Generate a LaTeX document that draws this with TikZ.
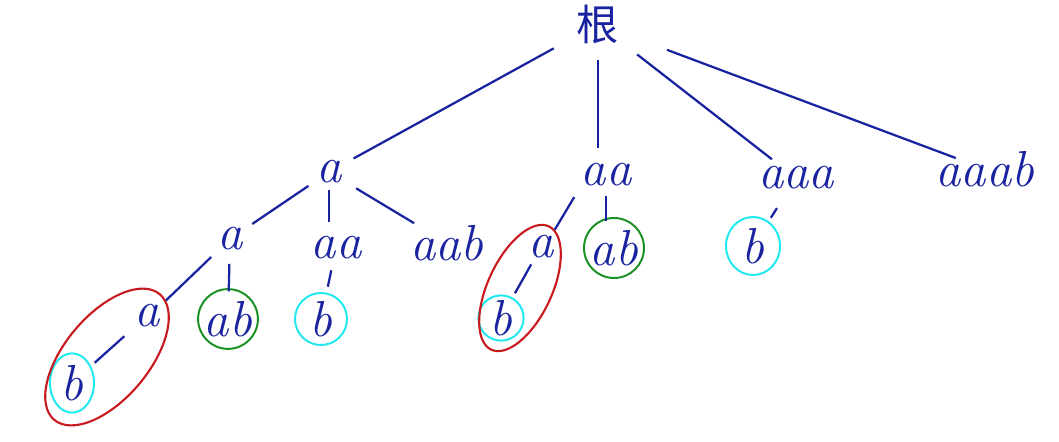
\documentclass[tikz,border=0pt]{standalone}
\usepackage{fontspec}
\newfontfamily\cjkfont{Noto Sans CJK SC}
\usetikzlibrary{shapes.geometric}

\definecolor{ink}{RGB}{25,35,160}
\definecolor{loopred}{RGB}{200,25,30}
\definecolor{okgreen}{RGB}{25,145,35}
\definecolor{endcyan}{RGB}{30,232,240}

\begin{document}
\begin{tikzpicture}[
    x=0.025cm, y=-0.025cm,
    lbl/.style={inner sep=0pt, text=ink, font=\fontsize{36}{36}\selectfont\itshape},
    edge/.style={draw=ink, line width=1.6pt},
    ring/.style={draw=#1, line width=1.4pt},
    group/.style={ellipse, draw=loopred, line width=1.5pt, inner sep=0pt}
]
\useasboundingbox (0,0) rectangle (1059,441);

% Root
\node[inner sep=0pt, text=ink, font=\cjkfont\fontsize{30}{30}\selectfont] (root) at (598,24) {根};

% First level
\node[lbl] (a1) at (329,172) {a};
\node[lbl] (aa1) at (606,175) {aa};
\node[lbl] (aaa1) at (796,178) {aaa};
\node[lbl] (aaab1) at (985,169) {aaab};

% Second level
\node[lbl] (a2) at (230,239) {a};
\node[lbl] (aa2) at (336,248) {aa};
\node[lbl] (aab2) at (447,243) {aab};
\node[lbl] (a2r) at (541,247) {a};
\node[lbl, circle, ring=okgreen, minimum size=1.5cm] (ab2r) at (614,248) {ab};
\node[lbl, ellipse, ring=endcyan, minimum width=1.35cm, minimum height=1.45cm] (b2) at (753,246) {b};

% Third level
\node[lbl] (a3) at (147,316) {a};
\node[lbl, circle, ring=okgreen, minimum size=1.42cm] (ab3) at (228,319) {ab};
\node[lbl, circle, ring=endcyan, minimum size=1.3cm] (b3) at (321,319) {b};
\node[lbl, circle, ring=endcyan, minimum size=1.13cm] (b3r) at (501,318) {b};

% Fourth level
\node[lbl, ellipse, ring=endcyan, minimum width=1.1cm, minimum height=1.48cm] (b4) at (72,383) {b};

% Red groups
\node[group, rotate=50, minimum width=4.1cm, minimum height=2.1cm] (grpL) at (107,357) {};
\node[group, rotate=65, minimum width=3.4cm, minimum height=1.6cm] (grpR) at (520,288) {};

% Edges
\draw[edge, shorten <=1.26cm, shorten >=0.7cm] (root.center) -- (a1.center);
\draw[edge, shorten <=0.9cm, shorten >=0.68cm] (root.center) -- (root.center |- aa1.center);
\draw[edge, shorten <=1.24cm, shorten >=0.76cm] (root.center) -- (aaa1.center);
\draw[edge, shorten <=1.84cm, shorten >=0.78cm] (root.center) -- (aaab1.center);
\draw[edge, shorten <=0.62cm, shorten >=0.67cm] (a1.center) -- (a2.center);
\draw[edge, shorten <=0.45cm, shorten >=0.66cm] (a1.center) -- (a1.center |- aa2.center);
\draw[edge, shorten <=0.79cm, shorten >=0.96cm] (a1.center) -- (aab2.center);
\draw[edge, shorten <=0.65cm] (a2.center) -- (grpL);
\draw[edge, shorten <=0.62cm, shorten >=-0.08cm] (a2.center) -- (ab3);
\draw[edge, shorten <=0.57cm, shorten >=0.15cm] (aa2.center) -- (b3);
\draw[edge, shorten <=0.76cm, shorten >=0.12cm] (a3.center) -- (b4);
\draw[edge, shorten <=0.3cm] (aa1.south west) -- (grpR);
\draw[edge, shorten <=0.52cm, shorten >=-0.1cm] (aa1.center) -- (aa1.center |- ab2r.north);
\draw[edge, shorten <=0.5cm, shorten >=0.12cm] (a2r.center) -- (b3r);
\draw[edge, shorten <=0.89cm, shorten >=0.1cm] (aaa1.center) -- (b2);

\end{tikzpicture}
\end{document}
